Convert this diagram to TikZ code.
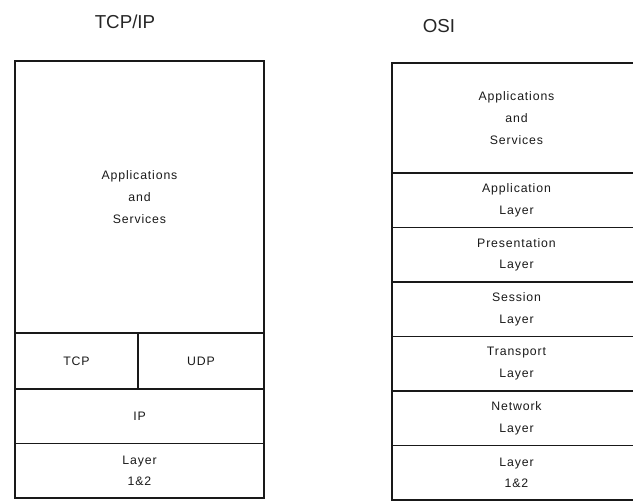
\documentclass[tikz,border=0pt]{standalone}
\usepackage{fontspec}
\setmainfont{Liberation Sans}
\usetikzlibrary{positioning}

\begin{document}
\begin{tikzpicture}[x = 0.03cm, y = -0.03cm,
		layer/.style = {draw = black!90, line width = 0.9pt, inner sep = 0pt, outer sep = 0pt,
			minimum width = 7.47cm, minimum height = 1.635cm, align = center, text = black!90,
			font = \fontsize{10.5}{18.5}\selectfont\addfontfeatures{LetterSpace=7}},
		title/.style = {font = \fontsize{16}{18}\selectfont, text = black!85}]
		\useasboundingbox (0,0) rectangle (633,502);
		\clip (0,0) rectangle (633,502);
		\node[title] (tcpiptitle) at (125,22) {TCP/IP};
		\node[title] (osititle) at (439,26) {OSI};
		% TCP/IP side
		\node[layer, anchor = north west, minimum height = 8.16cm] (tapps) at (15,61) {Applications\\and\\Services};
		\node[layer, anchor = north west, minimum width = 3.69cm, minimum height = 1.68cm] (tcp) at (tapps.south west) {TCP};
		\node[layer, anchor = north west, minimum width = 3.78cm, minimum height = 1.68cm] (udp) at (tcp.north east) {UDP};
		\node[layer, anchor = north] (ip) at (tapps.south |- tcp.south) {IP};
		\node[layer, below = 0pt of ip] (tlink) {Layer\\1\&2};
		% OSI side
		\node[layer, anchor = north west, minimum height = 3.3cm] (oapps) at (392,63) {Applications\\and\\Services};
		\node[layer, below = 0pt of oapps] (application) {Application\\Layer};
		\node[layer, below = 0pt of application] (presentation) {Presentation\\Layer};
		\node[layer, below = 0pt of presentation] (session) {Session\\Layer};
		\node[layer, below = 0pt of session] (transport) {Transport\\Layer};
		\node[layer, below = 0pt of transport] (network) {Network\\Layer};
		\node[layer, below = 0pt of network] (olink) {Layer\\1\&2};
	\end{tikzpicture}
\end{document}
